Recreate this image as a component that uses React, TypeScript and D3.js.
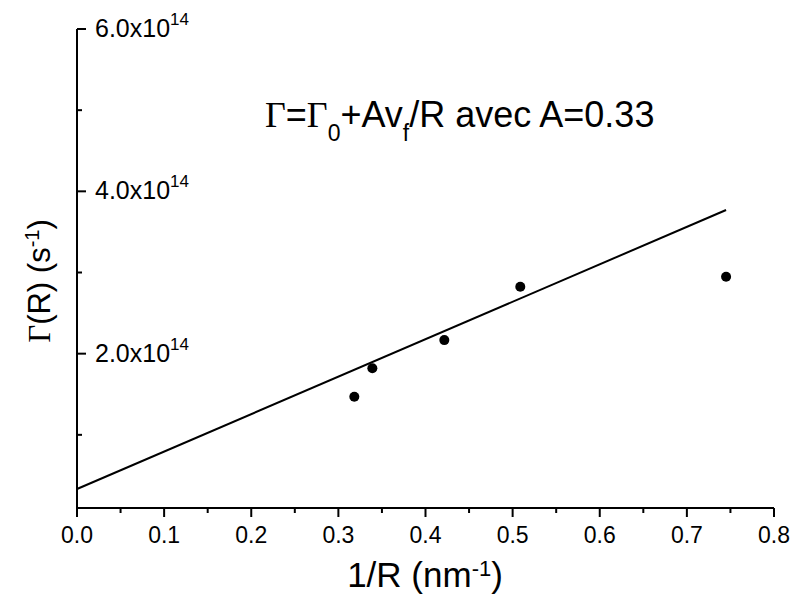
import React from "react";
import * as d3 from "d3";

const pointsX = [0.3183, 0.339, 0.4216, 0.5088, 0.745];
const pointsY = [1.47e14, 1.82e14, 2.167e14, 2.824e14, 2.947e14];
const fitX = [0, 0.745];
const fitY = [0.333e14, 3.77e14];
const xTicks = [0, 0.1, 0.2, 0.3, 0.4, 0.5, 0.6, 0.7, 0.8];
const xMinor = [0.05, 0.15, 0.25, 0.35, 0.45, 0.55, 0.65, 0.75];
const yTicks = [2e14, 4e14, 6e14];
const yMinor = [1e14, 3e14, 5e14];

const W = 795, H = 596;
const x = d3.scaleLinear().domain([0, 0.8]).range([77, 774]);
const y = d3.scaleLinear().domain([0, 6e14]).range([516, 29]);
const yBottom = 508;
const font = "'Liberation Sans', Arial, sans-serif";
const serif = "'Liberation Serif', 'Times New Roman', serif";

export default function App() {
  const line = d3.line<number>().x((d, i) => x(fitX[i])).y((d, i) => y(fitY[i]));
  return (
    <svg width={W} height={H} style={{ position: "absolute", left: 0, top: 0, background: "#fff" }} fontFamily={font} fill="#000">
      {/* axes */}
      <line x1={x(0)} x2={x(0)} y1={y(6e14)} y2={yBottom} stroke="#000" strokeWidth={2} />
      <line x1={x(0)} x2={x(0.8)} y1={yBottom} y2={yBottom} stroke="#000" strokeWidth={2} />
      {xTicks.map((t) => (
        <g key={"xt" + t}>
          <line x1={x(t)} x2={x(t)} y1={yBottom} y2={yBottom + 9} stroke="#000" strokeWidth={2} />
          <text x={x(t)} y={543} fontSize={23} textAnchor="middle">{t.toFixed(1)}</text>
        </g>
      ))}
      {xMinor.map((t) => (
        <line key={"xm" + t} x1={x(t)} x2={x(t)} y1={yBottom} y2={yBottom + 5} stroke="#000" strokeWidth={2} />
      ))}
      {yTicks.map((t) => (
        <g key={"yt" + t}>
          <line x1={x(0)} x2={x(0) + 9} y1={y(t)} y2={y(t)} stroke="#000" strokeWidth={2} />
          <text x={95} y={y(t) + 8} fontSize={25}>
            {(t / 1e14).toFixed(1) + "x10"}
            <tspan fontSize={17} dy={-12}>14</tspan>
          </text>
        </g>
      ))}
      {yMinor.map((t) => (
        <line key={"ym" + t} x1={x(0)} x2={x(0) + 5} y1={y(t)} y2={y(t)} stroke="#000" strokeWidth={2} />
      ))}
      {/* fit line */}
      <path d={line(fitX) || ""} fill="none" stroke="#000" strokeWidth={2} />
      {/* points */}
      {pointsX.map((px, i) => (
        <circle key={i} cx={x(px)} cy={y(pointsY[i])} r={5} fill="#000" />
      ))}
      {/* formula */}
      <text x={265} y={127} fontSize={36} fill="#000">
        <tspan fontFamily={serif}>Γ</tspan>=<tspan fontFamily={serif}>Γ</tspan>
        <tspan fontSize={23} dy={14}>0</tspan>
        <tspan dy={-14}>+Av</tspan>
        <tspan fontSize={23} dy={14}>f</tspan>
        <tspan dy={-14}>/R avec A=0.33</tspan>
      </text>
      {/* x title */}
      <text x={425} y={587} fontSize={35} textAnchor="middle" fill="#000">
        1/R (nm<tspan fontSize={22} dy={-11}>-1</tspan><tspan dy={11}>)</tspan>
      </text>
      {/* y title */}
      <text transform={`translate(50,281) rotate(-90)`} fontSize={31} textAnchor="middle" fill="#000">
        <tspan fontFamily={serif}>Γ</tspan>(R) (s<tspan fontSize={20} dy={-11}>-1</tspan><tspan dy={11}>)</tspan>
      </text>
    </svg>
  );
}
